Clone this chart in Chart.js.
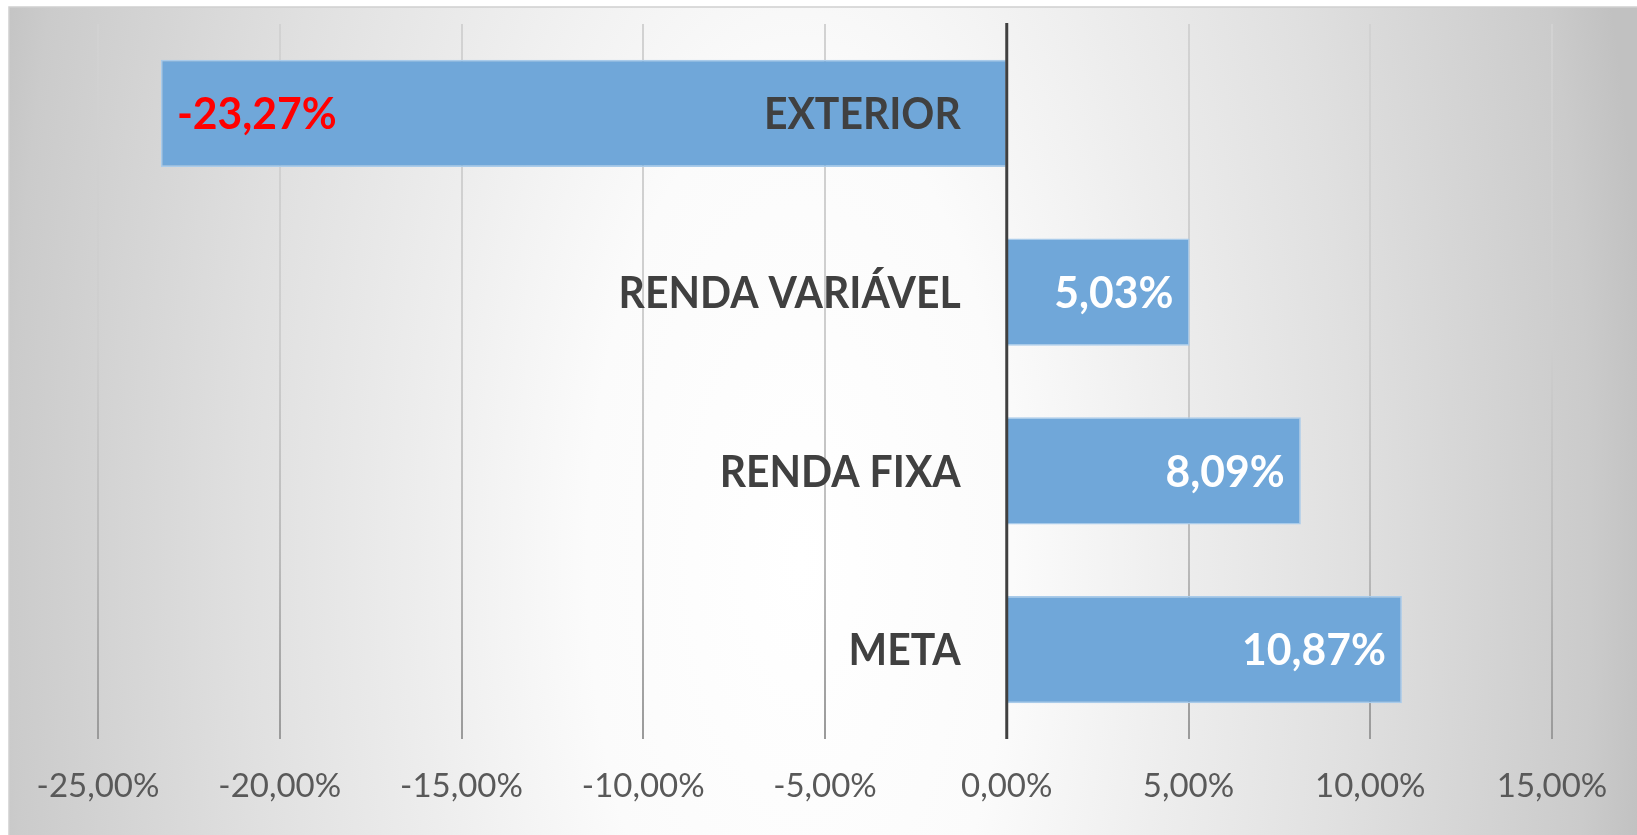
<!DOCTYPE html>
<html><head><meta charset="utf-8">
<script src="https://cdn.jsdelivr.net/npm/chart.js@4.4.0/dist/chart.umd.min.js"></script>
<style>html,body{margin:0;padding:0;background:#fff;overflow:hidden}canvas{display:block}</style>
</head><body>
<canvas id="c" width="1637" height="835"></canvas>
<script>
const categories = ['EXTERIOR', 'RENDA VARIÁVEL', 'RENDA FIXA', 'META'];
const values = [-23.27, 5.03, 8.09, 10.87];
const valueLabels = ['-23,27%', '5,03%', '8,09%', '10,87%'];
const valueLabelColors = ['#FF0000', '#FFFFFF', '#FFFFFF', '#FFFFFF'];
const xTickValues = [-25, -20, -15, -10, -5, 0, 5, 10, 15];
const xTickLabels = ['-25,00%', '-20,00%', '-15,00%', '-10,00%', '-5,00%', '0,00%', '5,00%', '10,00%', '15,00%'];

const FONT = 'Lato, "Open Sans", sans-serif';
const CAT_SIZE = 44;
const VAL_SIZE = 44;
const CAT_CONDENSE = 0.93;
const VAL_CONDENSE = 0.97;

const bgPlugin = {
  id: 'bg',
  beforeDraw(chart) {
    const c = chart.ctx, W = chart.width, H = chart.height;
    c.save();
    c.fillStyle = '#ffffff';
    c.fillRect(0, 0, W, H);
    const fx = 9, fy = 7;
    const cx = 800, cy = 560, R = 850, sy = 2.2;
    c.save();
    c.beginPath();
    c.rect(fx, fy, W - fx, H - fy);
    c.clip();
    c.translate(cx, cy);
    c.scale(1, sy);
    const g = c.createRadialGradient(0, 0, 0, 0, 0, R);
    g.addColorStop(0, '#ffffff');
    g.addColorStop(0.25, '#fbfbfb');
    g.addColorStop(0.45, '#ededed');
    g.addColorStop(0.65, '#e0e0e0');
    g.addColorStop(0.93, '#cbcbcb');
    g.addColorStop(1, '#c1c1c1');
    c.fillStyle = g;
    c.fillRect(-cx, -cy / sy - 10, W + 20, (H + 20) / sy + 20);
    c.restore();
    c.strokeStyle = '#cfcfcf';
    c.lineWidth = 1.5;
    c.beginPath();
    c.moveTo(fx, H);
    c.lineTo(fx, fy);
    c.lineTo(W, fy);
    c.stroke();
    c.restore();
  }
};

function condensedText(c, text, x, y, factor) {
  const w = c.measureText(text).width;
  c.fillText(text, x, y, w * factor);
}

const labelPlugin = {
  id: 'labels',
  afterDatasetsDraw(chart) {
    const c = chart.ctx;
    const xs = chart.scales.x, ys = chart.scales.y;
    const area = chart.chartArea;
    const x0 = xs.getPixelForValue(0);
    c.save();
    // zero axis line
    c.strokeStyle = '#404040';
    c.lineWidth = 3;
    c.beginPath();
    c.moveTo(x0, area.top - 1);
    c.lineTo(x0, area.bottom);
    c.stroke();
    // category labels
    c.font = 'bold ' + CAT_SIZE + 'px ' + FONT;
    c.fillStyle = '#404040';
    c.textAlign = 'right';
    c.textBaseline = 'alphabetic';
    categories.forEach((cat, i) => {
      const y = ys.getPixelForValue(i);
      condensedText(c, cat, x0 - 46, y + CAT_SIZE * 0.358, CAT_CONDENSE);
    });
    // value labels
    const meta = chart.getDatasetMeta(0);
    c.font = 'bold ' + VAL_SIZE + 'px ' + FONT;
    meta.data.forEach((bar, i) => {
      const v = values[i];
      c.fillStyle = valueLabelColors[i];
      const y = bar.y + VAL_SIZE * 0.358;
      if (v < 0) {
        c.textAlign = 'left';
        condensedText(c, valueLabels[i], bar.x + 16, y, VAL_CONDENSE);
      } else {
        c.textAlign = 'right';
        condensedText(c, valueLabels[i], bar.x - 16, y, VAL_CONDENSE);
      }
    });
    c.restore();
  }
};

function gridColor(context) {
  if (context.tick && context.tick.value === 0) return 'rgba(0,0,0,0)';
  const chart = context.chart;
  const area = chart.chartArea;
  if (!area) return '#d4d4d4';
  const g = chart.ctx.createLinearGradient(0, area.top, 0, area.bottom);
  g.addColorStop(0, '#d2d2d2');
  g.addColorStop(0.45, '#cecece');
  g.addColorStop(0.75, '#bababa');
  g.addColorStop(1, '#9a9a9a');
  return g;
}

new Chart(document.getElementById('c'), {
  type: 'bar',
  data: {
    labels: categories,
    datasets: [{
      data: values,
      backgroundColor: '#70a7d9',
      borderColor: '#a9cbea',
      borderWidth: 1.5,
      barPercentage: 0.6,
      categoryPercentage: 1.0
    }]
  },
  options: {
    indexAxis: 'y',
    responsive: false,
    animation: false,
    events: [],
    layout: { padding: { top: 24, left: 98, right: 85, bottom: 0 } },
    plugins: { legend: { display: false }, tooltip: { enabled: false } },
    scales: {
      x: {
        type: 'linear',
        min: xTickValues[0],
        max: xTickValues[xTickValues.length - 1],
        afterBuildTicks(scale) { scale.ticks = xTickValues.map(v => ({ value: v })); },
        afterFit(scale) { scale.height = 96; },
        border: { display: false },
        grid: { color: gridColor, lineWidth: 2, drawTicks: false },
        ticks: {
          padding: 28,
          color: '#595959',
          font: { family: FONT, size: 33 },
          maxRotation: 0,
          autoSkip: false,
          callback(value) { const k = xTickValues.indexOf(value); return k >= 0 ? xTickLabels[k] : ''; }
        }
      },
      y: {
        type: 'category',
        display: false,
        grid: { display: false }
      }
    }
  },
  plugins: [bgPlugin, labelPlugin]
});
</script>
</body></html>
